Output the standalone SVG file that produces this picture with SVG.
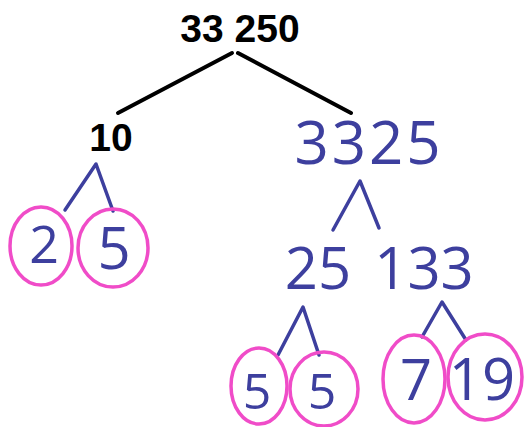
<svg xmlns="http://www.w3.org/2000/svg" width="529" height="427" viewBox="0 0 529 427">
<style>
.bk{font-family:"Liberation Sans",Arial,sans-serif;font-weight:bold;fill:#000;text-anchor:middle}
.hw{font-family:"Open Sans","Liberation Sans",sans-serif;font-weight:400;fill:#3d3f9e;text-anchor:middle}
.edge{fill:none;stroke:#000;stroke-width:4;stroke-linecap:round}
.be{fill:none;stroke:#3d3f9e;stroke-width:3.5;stroke-linecap:round;stroke-linejoin:round}
.ring{fill:none;stroke:#f04cc8;stroke-width:3.5}
</style>
<rect width="529" height="427" fill="#fff"/>
<g id="connectors">
<line class="edge" x1="232" y1="53" x2="118" y2="113"/>
<line class="edge" x1="238" y1="53" x2="351" y2="113"/>
<polyline class="be" points="65,210 96,164 113,211"/>
<polyline class="be" points="333,230 360,181 379,228"/>
<polyline class="be" points="278,355 303,307 319,355"/>
<polyline class="be" points="422,337 442,302 466,340"/>
</g>
<g id="n33250"><text class="bk" x="240" y="42" font-size="39">33 250</text></g>
<g id="n10"><text class="bk" x="111" y="151" font-size="39">10</text></g>
<g id="n3325"><text class="hw" x="369" y="164" font-size="60" letter-spacing="3">3325</text></g>
<g id="n2"><ellipse class="ring" cx="41" cy="246" rx="31" ry="39"/><text class="hw" x="44" y="263" font-size="52">2</text></g>
<g id="n5a"><ellipse class="ring" cx="113" cy="248" rx="35" ry="39"/><text class="hw" x="114" y="269" font-size="58">5</text></g>
<g id="n25"><text class="hw" x="318" y="289" font-size="58">25</text></g>
<g id="n133"><text class="hw" x="424" y="289" font-size="58">133</text></g>
<g id="n5b"><ellipse class="ring" cx="259" cy="386" rx="28" ry="38"/><text class="hw" x="257" y="409" font-size="50">5</text></g>
<g id="n5c"><ellipse class="ring" cx="324" cy="389" rx="34" ry="37"/><text class="hw" x="322" y="409" font-size="50">5</text></g>
<g id="n7"><ellipse class="ring" cx="414" cy="379" rx="31" ry="44"/><text class="hw" x="416" y="400" font-size="56">7</text></g>
<g id="n19"><ellipse class="ring" cx="485" cy="377" rx="37" ry="43"/><text class="hw" x="482" y="400" font-size="58">19</text></g>
</svg>
